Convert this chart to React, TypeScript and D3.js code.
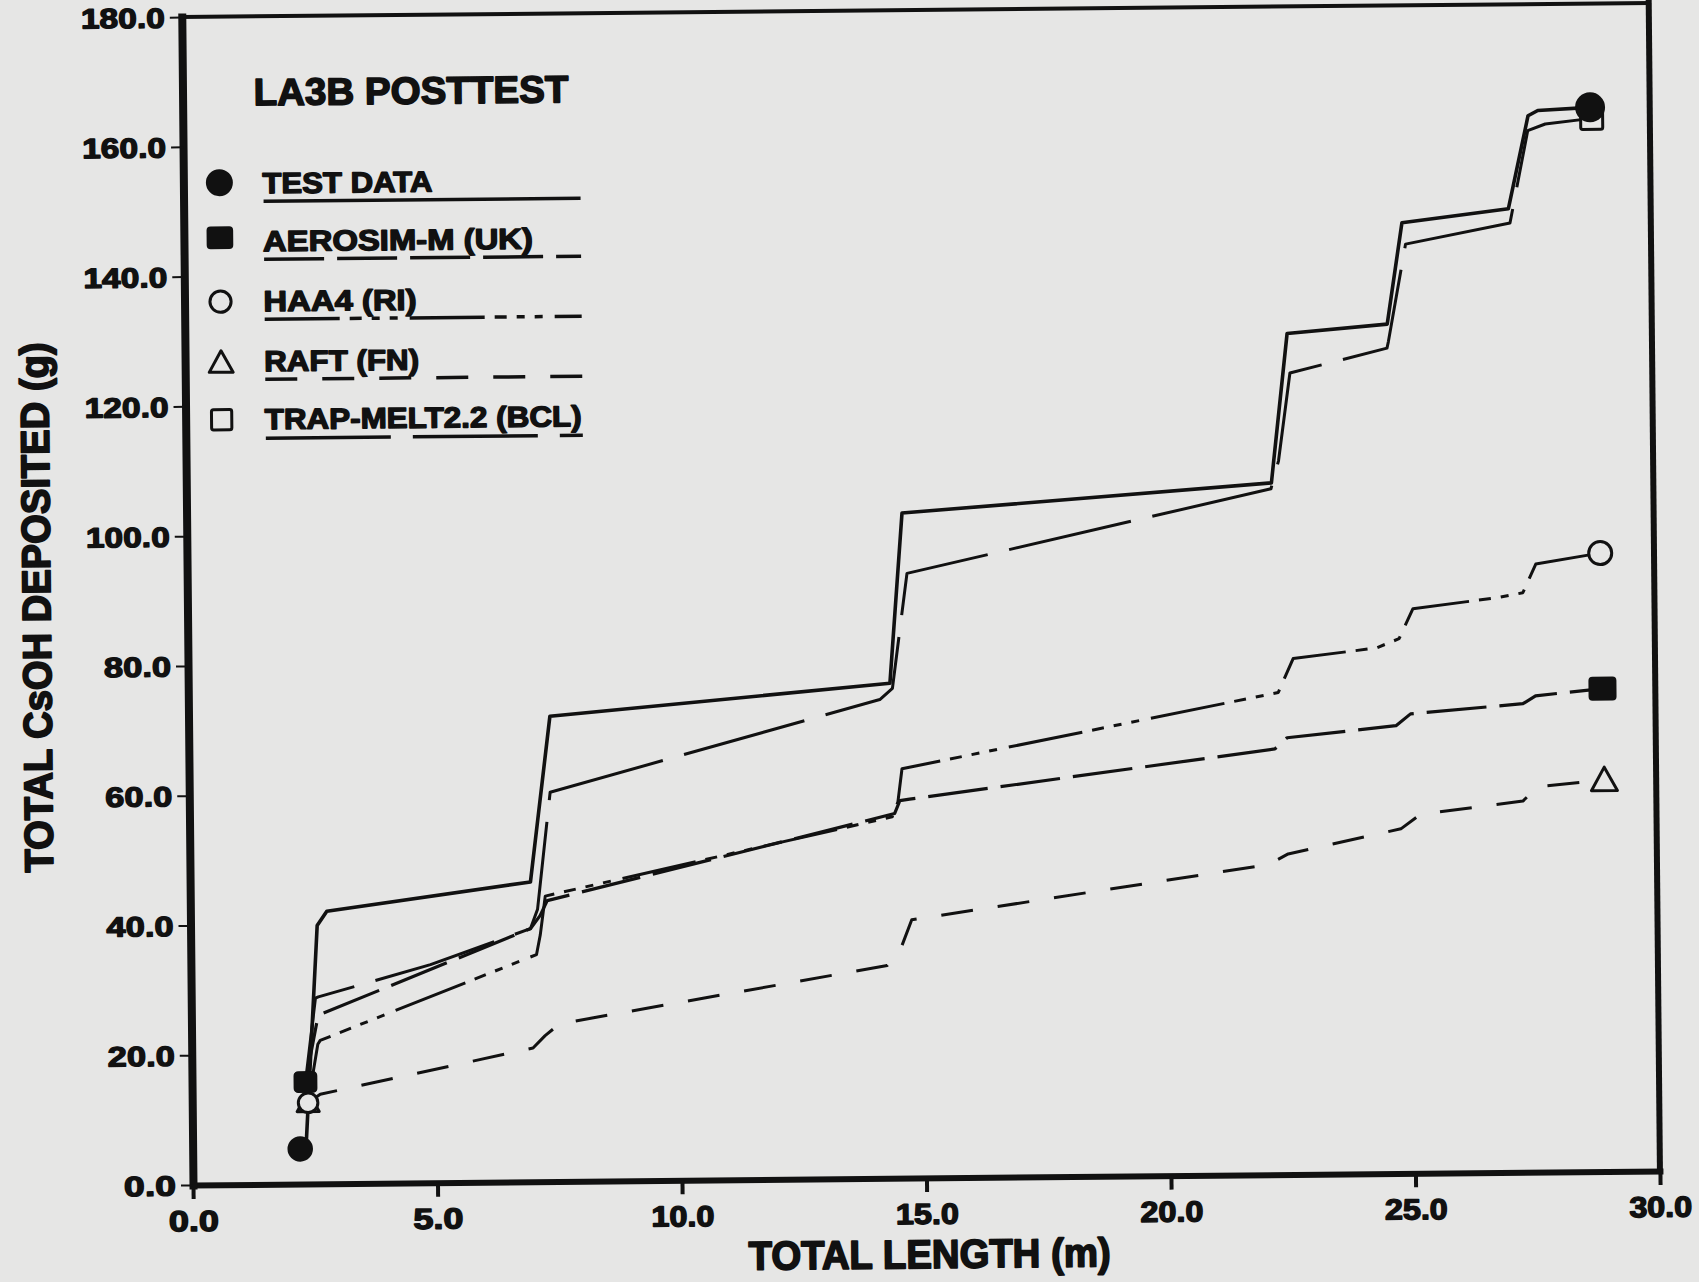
import React from 'react';
import * as d3 from 'd3';

// axis ticks
const xTicks = [0, 5, 10, 15, 20, 25, 30];
const yTicks = [0, 20, 40, 60, 80, 100, 120, 140, 160, 180];

// TEST DATA (solid)
const testX = [2.2, 2.33, 2.59, 2.79, 6.96, 7.39, 14.35, 14.63, 22.19, 22.54, 24.59, 24.91, 27.09, 27.51, 27.71, 28.78];
const testY = [5.4, 7.0, 39.8, 42.0, 46.2, 71.7, 76.3, 102.5, 106.6, 129.6, 130.9, 146.5, 148.5, 162.8, 163.6, 164.0];

// AEROSIM-M (UK)
const aeroX = [2.32, 2.58, 2.67, 6.95, 7.15, 7.3, 14.42, 14.53, 14.73, 22.21, 22.46, 24.69, 24.99, 27.29, 27.55, 28.92];
const aeroY = [15.7, 25.5, 26.2, 39.0, 41.0, 43.3, 56.2, 58.2, 58.4, 65.6, 67.3, 69.0, 70.8, 72.2, 73.4, 74.4];

// HAA4 (RI)
const haaX = [2.37, 2.58, 2.63, 7.07, 7.15, 7.26, 14.37, 14.49, 14.58, 22.29, 22.45, 22.6, 24.3, 24.77, 25.06, 26.81, 27.31, 27.58, 28.9];
const haaY = [12.5, 21.5, 22.1, 35.0, 38.0, 44.0, 55.7, 58.0, 63.1, 74.3, 77.0, 79.5, 81.0, 82.4, 87.0, 88.6, 89.3, 93.7, 95.3];

// RAFT (FN)
const raftX = [2.37, 2.62, 6.98, 7.23, 7.53, 14.24, 14.49, 14.75, 22.06, 22.46, 24.77, 25.17, 27.27, 27.58, 28.94];
const raftY = [12.5, 13.8, 20.6, 22.5, 24.3, 32.8, 34.8, 39.8, 47.8, 49.4, 53.1, 55.3, 57.2, 59.4, 60.3];

// TRAP-MELT2.2 (BCL)
const trapX = [2.32, 2.54, 2.6, 4.9, 6.95, 7.1, 7.38, 14.14, 14.4, 14.72, 22.18, 22.34, 22.59, 24.58, 24.61, 24.98, 27.12, 27.5, 27.86, 28.81];
const trapY = [15.7, 28.6, 28.8, 33.6, 39.0, 42.0, 60.0, 73.8, 75.5, 93.2, 105.7, 110.0, 123.5, 127.2, 128.2, 143.2, 146.3, 160.5, 161.5, 162.3];

const legendTitle = "LA3B POSTTEST";
const legendNames = ["TEST DATA", "AEROSIM-M (UK)", "HAA4 (RI)", "RAFT (FN)", "TRAP-MELT2.2 (BCL)"];

const width = 1699;
const height = 1282;
const plotLeft = 193;
const plotRight = 1660;
const plotTop = 17;
const plotBottom = 1185;
const skew = -0.55; // the scanned page is slightly tilted

const ink = "#111111";
const paper = "#e6e6e5";
const font = "'Liberation Sans', Arial, Helvetica, sans-serif";

export default function App() {
    const svgRef = React.useRef<SVGSVGElement>(null);

    React.useEffect(() => {
        const svg = d3.select(svgRef.current);
        svg.selectAll("*").remove();

        svg.append("rect").attr("width", width).attr("height", height).attr("fill", paper);

        const scaleX = d3.scaleLinear().domain([0, 30]).range([plotLeft, plotRight]);
        const scaleY = d3.scaleLinear().domain([0, 180]).range([plotBottom, plotTop]);

        const g = svg.append("g").attr("transform", `rotate(${skew}, ${plotLeft}, ${plotBottom})`);

        drawAxes(g, scaleX, scaleY);

        // series drawn back to front
        const series = [
            {xs: raftX, ys: raftY, dash: "32,25", width: 3, marker: "triangle"},
            {xs: trapX, ys: trapY, dash: "125,22", width: 3, marker: "box"},
            {xs: haaX, ys: haaY, dash: "75,10,12,10,8,10,8,12", width: 3, marker: "circle"},
            {xs: aeroX, ys: aeroY, dash: "60,13", width: 3.2, marker: "square"},
            {xs: testX, ys: testY, dash: null, width: 3.6, marker: "dot"},
        ];

        const line = d3.line<[number, number]>()
            .x(d => scaleX(d[0]))
            .y(d => scaleY(d[1]));

        for (const s of series) {
            const pts = d3.zip(s.xs, s.ys) as [number, number][];
            g.append("path")
                .datum(pts)
                .attr("d", line)
                .attr("fill", "none")
                .attr("stroke", ink)
                .attr("stroke-width", s.width)
                .attr("stroke-linejoin", "round")
                .attr("stroke-dasharray", s.dash);
        }
        for (const s of series) {
            const n = s.xs.length - 1;
            drawMarker(g, s.marker, scaleX(s.xs[0]), scaleY(s.ys[0]), 0.85);
            drawMarker(g, s.marker, scaleX(s.xs[n]), scaleY(s.ys[n]), 1.0);
        }

        drawLegend(g, series);
        drawTitles(g);
    }, []);

    const styleText = (sel, size, weight, len) => {
        sel.attr("font-family", font)
            .attr("font-weight", 700)
            .attr("font-size", size)
            .attr("fill", ink)
            .attr("stroke", ink)
            .attr("stroke-width", weight)
            .attr("stroke-linejoin", "round")
            .attr("textLength", len)
            .attr("lengthAdjust", "spacingAndGlyphs");
    };

    const drawAxes = (g, scaleX, scaleY) => {
        const axisX = d3.axisBottom(scaleX)
            .tickValues(xTicks)
            .tickSize(14)
            .tickSizeOuter(0)
            .tickFormat(d => d3.format(".1f")(d));

        const ax = g.append("g")
            .attr("transform", `translate(0, ${plotBottom})`)
            .call(axisX);
        ax.select(".domain").attr("stroke", ink).attr("stroke-width", 6).attr("stroke-linecap", "square");
        ax.selectAll(".tick line").attr("stroke", ink).attr("stroke-width", 4);
        styleText(ax.selectAll(".tick text").attr("y", 46).attr("dy", null),
                  29, 1.4, d => (d >= 10 ? 63 : 50));

        const axisY = d3.axisLeft(scaleY)
            .tickValues(yTicks)
            .tickSize(12)
            .tickSizeOuter(0)
            .tickFormat(d => d3.format(".1f")(d));

        const ay = g.append("g")
            .attr("transform", `translate(${plotLeft}, 0)`)
            .call(axisY);
        ay.select(".domain").attr("stroke", ink).attr("stroke-width", 8).attr("stroke-linecap", "square");
        ay.selectAll(".tick line").attr("stroke", ink).attr("stroke-width", 2);
        styleText(ay.selectAll(".tick text").attr("x", -17).attr("dy", 10),
                  28, 1.3, d => (d >= 100 ? 84 : d >= 10 ? 67 : 52));

        // frame: top and right borders
        g.append("line")
            .attr("x1", plotLeft).attr("x2", plotRight)
            .attr("y1", plotTop).attr("y2", plotTop)
            .attr("stroke", ink).attr("stroke-width", 4).attr("stroke-linecap", "square");
        g.append("line")
            .attr("x1", plotRight).attr("x2", plotRight)
            .attr("y1", plotTop).attr("y2", plotBottom)
            .attr("stroke", ink).attr("stroke-width", 6).attr("stroke-linecap", "square");
    };

    const drawMarker = (g, kind, cx, cy, k) => {
        if (kind === "dot") {
            g.append("circle").attr("cx", cx).attr("cy", cy).attr("r", 15 * k).attr("fill", ink);
        }
        else if (kind === "square") {
            const w = 28 * k, h = 24 * k;
            g.append("rect").attr("x", cx - w / 2).attr("y", cy - h / 2)
                .attr("width", w).attr("height", h).attr("rx", 4).attr("fill", ink);
        }
        else if (kind === "circle") {
            g.append("circle").attr("cx", cx).attr("cy", cy).attr("r", 11.5 * k)
                .attr("fill", paper).attr("stroke", ink).attr("stroke-width", 3);
        }
        else if (kind === "triangle") {
            const s = 13 * k;
            g.append("path")
                .attr("d", `M${cx},${cy - s}L${cx + s},${cy + s * 0.8}L${cx - s},${cy + s * 0.8}Z`)
                .attr("fill", paper).attr("stroke", ink).attr("stroke-width", 3).attr("stroke-linejoin", "round");
        }
        else {
            const s = 22 * k;
            g.append("rect").attr("x", cx - s / 2).attr("y", cy - s / 2)
                .attr("width", s).attr("height", s).attr("rx", 2)
                .attr("fill", paper).attr("stroke", ink).attr("stroke-width", 3);
        }
    };

    const drawLegend = (g, series) => {
        styleText(g.append("text").attr("x", 264).attr("y", 106).text(legendTitle), 38, 1.6, 315);

        // legend order differs from the drawing order
        const order = [4, 3, 2, 0, 1];
        const textLengths = [170, 270, 153, 155, 317];
        const markerY = [183, 238, 302, 363, 420];
        const baseY = [194, 252, 312, 372, 430];
        const ruleY = [202, 260, 320, 380, 439];

        legendNames.forEach((name, i) => {
            const s = series[order[i]];
            const k = s.marker === "dot" ? 0.9 : s.marker === "square" ? 0.95 : 0.92;
            drawMarker(g, s.marker, 229, markerY[i], k);

            styleText(g.append("text").attr("x", 272).attr("y", baseY[i]).text(name), 29, 1.4, textLengths[i]);

            g.append("line")
                .attr("x1", 273).attr("x2", 590)
                .attr("y1", ruleY[i]).attr("y2", ruleY[i])
                .attr("stroke", ink).attr("stroke-width", 3.5)
                .attr("stroke-dasharray", s.dash);
        });
    };

    const drawTitles = (g) => {
        styleText(g.append("text")
            .attr("x", 929).attr("y", 1275)
            .attr("text-anchor", "middle")
            .text("TOTAL LENGTH (m)"), 40, 1.8, 362);

        styleText(g.append("text")
            .attr("transform", "translate(56, 606) rotate(-90)")
            .attr("text-anchor", "middle")
            .text("TOTAL CsOH DEPOSITED (g)"), 40, 1.8, 530);
    };

    return (
        <svg ref={svgRef} width={width} height={height}
             style={{position: "absolute", left: 0, top: 0, display: "block"}}></svg>
    );
}
